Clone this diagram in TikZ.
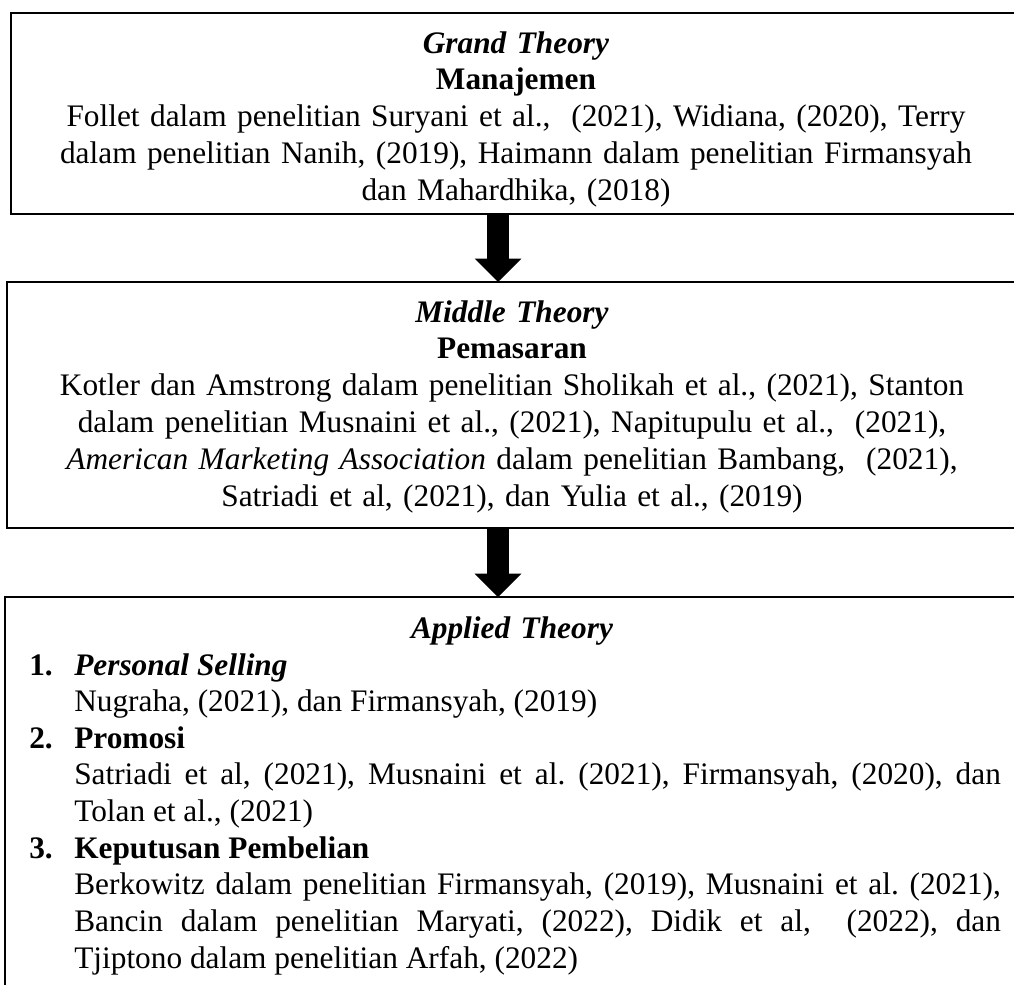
\documentclass[tikz,border=0pt]{standalone}
\usepackage{fontspec}
\setmainfont{Liberation Serif}
\usetikzlibrary{arrows.meta}
\frenchspacing

\begin{document}
\begin{tikzpicture}[x=0.75pt, y=-0.75pt]
	\tikzstyle{box} = [draw, rectangle, line width=2pt, inner sep=0pt, outer sep=0pt]
	\tikzstyle{txt} = [anchor=base, inner sep=0pt, align=center, text width=740pt, font=\fontsize{23.5}{27.6}\selectfont]
	\tikzstyle{item} = [anchor=base west, inner sep=0pt, align=justify, text width=695pt, font=\fontsize{23.5}{27.5}\selectfont]
	\tikzstyle{num} = [anchor=base west, inner sep=0pt, font=\fontsize{23.5}{27.5}\selectfont\bfseries]
	\tikzstyle{big} = [-{Triangle[length=17.5pt,width=35pt,line width=0pt]}, line width=16.5pt]
	
	\useasboundingbox (0,0) rectangle (1014,985);
	
	\node[box, minimum width=757.5pt, minimum height=150.75pt](b-1) at (516,113.5){};
	\node[box, minimum width=759.75pt, minimum height=184.5pt](b-2) at (513.5,405){};
	\node[box, minimum width=761.25pt, minimum height=309.75pt](b-3) at (512.5,803.5){};
	
	\coordinate (ax) at (498,0);
	\draw[big] (b-1.south -| ax) -- (b-2.north -| ax);
	\draw[big] (b-2.south -| ax) -- (b-3.north -| ax);
	
	\node[txt](t-1) at (516,53){\textbf{\textit{Grand Theory}}\\
		\textbf{Manajemen}\\
		Follet dalam penelitian Suryani et al.,~ (2021), Widiana, (2020), Terry\\
		dalam penelitian Nanih, (2019), Haimann dalam penelitian Firmansyah\\
		dan Mahardhika, (2018)};
	
	\node[txt](t-2) at (512,322){\textbf{\textit{Middle Theory}}\\
		\textbf{Pemasaran}\\
		Kotler dan Amstrong dalam penelitian Sholikah et al., (2021), Stanton\\
		dalam penelitian Musnaini et al., (2021), Napitupulu et al.,~ (2021),\\
		\textit{American Marketing Association} dalam penelitian Bambang,~ (2021),\\
		Satriadi et al, (2021), dan Yulia et al., (2019)};
	
	\node[txt](t-3) at (512,638){\textbf{\textit{Applied Theory}}};
	
	\node[num](n-1) at (29,675){1.};
	\node[num](n-2) at (29,748){2.};
	\node[num](n-3) at (29,858){3.};
	
	\node[item](i-1) at (74,675){\textbf{\textit{Personal Selling}}\\
		Nugraha, (2021), dan Firmansyah, (2019)};
	\node[item](i-2) at (74,748){\textbf{Promosi}\\
		Satriadi et al, (2021), Musnaini et al. (2021), Firmansyah, (2020), dan\linebreak
		Tolan et al., (2021)};
	\node[item](i-3) at (74,858){\textbf{Keputusan Pembelian}\\
		Berkowitz dalam penelitian Firmansyah, (2019), Musnaini et al. (2021),\linebreak
		Bancin dalam penelitian Maryati, (2022), Didik et al,~ (2022), dan\linebreak
		Tjiptono dalam penelitian Arfah, (2022)};
\end{tikzpicture}
\end{document}
